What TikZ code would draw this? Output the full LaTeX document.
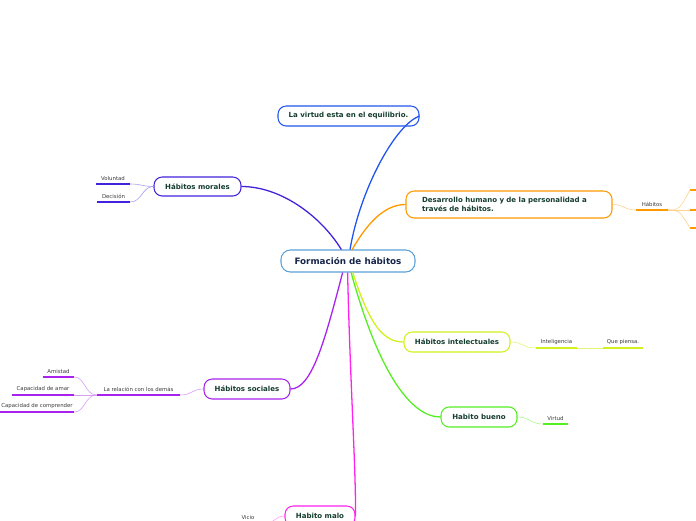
\documentclass[tikz,border=0pt]{standalone}
\usepackage{fontspec}
\setmainfont{DejaVu Sans}
\usetikzlibrary{calc}
\definecolor{mapblue}{RGB}{91,160,214}
\definecolor{mapnavy}{RGB}{22,38,74}
\definecolor{maptext}{RGB}{21,62,46}
\definecolor{mapgray}{RGB}{60,60,60}
\definecolor{virtblue}{RGB}{34,85,238}
\definecolor{moralviolet}{RGB}{68,34,221}
\definecolor{devorange}{RGB}{255,153,0}
\definecolor{intlime}{RGB}{210,240,30}
\definecolor{goodgreen}{RGB}{85,238,34}
\definecolor{socpurple}{RGB}{170,34,238}
\definecolor{badpink}{RGB}{255,34,238}
\tikzset{
  root/.style={
    rectangle, rounded corners=8pt, draw=mapblue, line width=0.9pt,
    fill=white, text=mapnavy, minimum width=4.02cm, minimum height=0.66cm,
    inner sep=0pt, font=\bfseries\fontsize{7.5pt}{9pt}\selectfont
  },
  topic/.style={
    rectangle, rounded corners=7pt, line width=0.9pt,
    fill=white, text=maptext, minimum height=0.6cm,
    inner sep=0pt, font=\bfseries\fontsize{6pt}{7.2pt}\selectfont
  },
  leaf/.style={
    anchor=south, inner xsep=0pt, inner ysep=2.8pt, text=mapgray,
    font=\fontsize{4.6pt}{5.2pt}\selectfont
  },
  branch/.style={line width=1.1pt},
  twig/.style={line width=0.5pt},
  leafline/.style={line width=1.3pt}
}
\begin{document}
\begin{tikzpicture}[x=0.03cm, y=-0.03cm]
\clip (0,0) rectangle (696,520);

\node[root] (root) at (348,261) {Formación de hábitos};

% main topics
\node[topic, draw=virtblue, minimum width=4.23cm] (virtud) at (348.5,116) {La virtud esta en el equilibrio.};
\node[topic, draw=moralviolet, minimum width=2.61cm, minimum height=0.57cm] (moral) at (197.5,186.5) {Hábitos morales};
\node[topic, draw=devorange, minimum width=6.18cm, minimum height=0.81cm, text width=5.22cm, inner xsep=0.48cm, align=left] (desa) at (509,204.5) {Desarrollo humano y de la personalidad a\\través de hábitos.};
\node[topic, draw=intlime, minimum width=3.18cm] (intel) at (457,342) {Hábitos intelectuales};
\node[topic, draw=goodgreen, minimum width=2.28cm] (bueno) at (479,417) {Habito bueno};
\node[topic, draw=socpurple, minimum width=2.58cm] (social) at (247,389) {Hábitos sociales};
\node[topic, draw=badpink, minimum width=2.1cm] (malo) at (320,516) {Habito malo};

% leaves
\node[leaf, minimum width=1.02cm] (volun) at (113,184) {Voluntad};
\node[leaf, minimum width=0.99cm] (deci) at (113.5,202) {Decisión};
\node[leaf, minimum width=0.96cm] (habit) at (652,210) {Hábitos};
\node[leaf, minimum width=1.23cm] (inteli) at (556.5,348) {Inteligencia};
\node[leaf, minimum width=1.2cm] (piensa) at (623,348) {Que piensa.};
\node[leaf, minimum width=0.75cm] (virt) at (555.5,424) {Virtud};
\node[leaf, minimum width=2.49cm] (rel) at (138.5,395) {La relación con los demás};
\node[leaf, minimum width=0.93cm] (amis) at (58.5,377) {Amistad};
\node[leaf, minimum width=1.86cm] (amar) at (43,395) {Capacidad de amar};
\node[leaf, minimum width=2.22cm] (comp) at (37,412) {Capacidad de comprender};
\node[leaf, minimum width=1.08cm] (vicio) at (248,523) {Vicio};

\coordinate (habA) at (690,190);
\coordinate (habB) at (690,210);
\coordinate (habC) at (690,228);

\foreach \n/\c in {volun/moralviolet, deci/moralviolet, habit/devorange,
  inteli/intlime, piensa/intlime, virt/goodgreen, rel/socpurple,
  amis/socpurple, amar/socpurple, comp/socpurple, vicio/badpink}
  \draw[leafline, \c] (\n.south west) -- (\n.south east);
\foreach \n in {habA, habB, habC}
  \draw[leafline, devorange] (\n) -- ++(12,0);

% branches from the root
\draw[branch, virtblue] (root.80) .. controls (360,190) and (395,125) .. (virtud.east);
\draw[branch, moralviolet] (root.120) .. controls (320,215) and (280,186.5) .. (moral.east);
\draw[branch, devorange] (root.70) .. controls (368,222) and (385,204.5) .. (desa.west);
\draw[branch, intlime] (root.-68) .. controls (368,318) and (380,342) .. (intel.west);
\draw[branch, goodgreen] (root.-75) .. controls (378,370) and (410,417) .. (bueno.west);
\draw[branch, socpurple] (root.-115) .. controls (325,340) and (312,389) .. (social.east);
\draw[branch, badpink] (root.-92) .. controls (350,380) and (356,470) .. (malo.east);

% twigs
\draw[twig, moralviolet!45] (moral.west) .. controls (142,186.5) and (142,184) .. (volun.south east);
\draw[twig, moralviolet!45] (moral.west) .. controls (142,186.5) and (142,202) .. (deci.south east);
\draw[twig, devorange!45] (desa.east) .. controls (624,204.5) and (624,210) .. (habit.south west);
\foreach \n in {habA, habB, habC}
  \draw[twig, devorange!45] (habit.south east) .. controls (679,210) and (679,210) .. (\n);
\draw[twig, intlime!60] (intel.east) .. controls (523,342) and (523,348) .. (inteli.south west);
\draw[twig, intlime!60] (inteli.south east) -- (piensa.south west);
\draw[twig, goodgreen!50] (bueno.east) .. controls (530,417) and (530,424) .. (virt.south west);
\draw[twig, socpurple!45] (social.west) .. controls (192,389) and (192,395) .. (rel.south east);
\draw[twig, socpurple!45] (rel.south west) .. controls (85,395) and (85,377) .. (amis.south east);
\draw[twig, socpurple!45] (rel.south west) -- (amar.south east);
\draw[twig, socpurple!45] (rel.south west) .. controls (85,395) and (85,412) .. (comp.south east);
\draw[twig, badpink!45] (malo.west) .. controls (275,516) and (275,523) .. (vicio.south east);
\end{tikzpicture}
\end{document}
